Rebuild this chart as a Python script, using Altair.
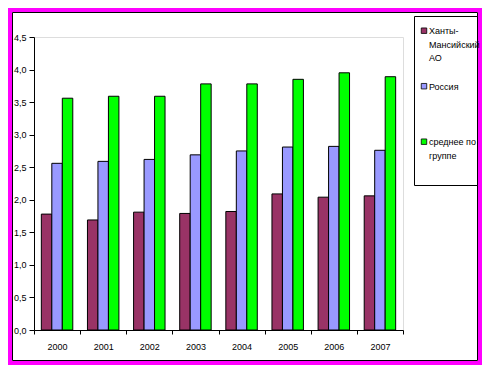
import altair as alt
import pandas as pd

# ---- data ----
years = ["2000", "2001", "2002", "2003", "2004", "2005", "2006", "2007"]
series = ["Ханты-Мансийский АО", "Россия", "среднее по группе"]
legend_labels = ["Ханты-\nМансийский\nАО", "Россия", "среднее по\nгруппе"]
khmao = [1.78, 1.69, 1.81, 1.79, 1.82, 2.09, 2.04, 2.06]
russia = [2.56, 2.59, 2.62, 2.69, 2.75, 2.81, 2.82, 2.76]
group_avg = [3.56, 3.59, 3.59, 3.78, 3.78, 3.85, 3.95, 3.89]
y_ticks = [0, 0.5, 1.0, 1.5, 2.0, 2.5, 3.0, 3.5, 4.0, 4.5]
colors = ["#993366", "#9999FF", "#00FF00"]

FONT = "Liberation Sans"

rows = []
for name, vals in zip(series, [khmao, russia, group_avg]):
    for yr, v in zip(years, vals):
        rows.append({"year": yr, "series": name, "value": v})
df = pd.DataFrame(rows)

legend_df = pd.DataFrame({
    "series": series,
    "label": legend_labels,
    "idx": list(range(len(series))),
})

color_scale = alt.Scale(domain=series, range=colors)

bars = alt.Chart(df).mark_bar(stroke="black", strokeWidth=1).encode(
    x=alt.X(
        "year:N",
        sort=years,
        scale=alt.Scale(paddingInner=0, paddingOuter=0),
        axis=alt.Axis(
            title=None, labelAngle=0, tickBand="extent", tickSize=4,
            labelPadding=8, labelFontSize=9, labelFont=FONT,
            labelColor="black", domainColor="black", tickColor="black",
        ),
    ),
    xOffset=alt.XOffset(
        "series:N", sort=series,
        scale=alt.Scale(domain=series, paddingInner=0, paddingOuter=0.7),
    ),
    y=alt.Y(
        "value:Q",
        scale=alt.Scale(domain=[0, 4.5], nice=False, zero=True),
        axis=alt.Axis(
            title=None, values=y_ticks, grid=False, tickSize=5,
            labelPadding=3, labelFontSize=9, labelFont=FONT,
            labelColor="black", domainColor="black", tickColor="black",
            labelExpr="replace(format(datum.value, '.1f'), '.', ',')",
        ),
    ),
    color=alt.Color("series:N", scale=color_scale, legend=None),
)

one = pd.DataFrame({"k": [0]})

# outer magenta border (svg spans 474 x 357; plot origin at svg (26, 29))
frame_magenta = alt.Chart(one).mark_rect(
    fill="white", fillOpacity=0, stroke="#FF00FF", strokeWidth=4
).encode(
    x=alt.value(-24), x2=alt.value(446),
    y=alt.value(-27), y2=alt.value(326),
)

frame_black = alt.Chart(one).mark_rect(
    fill="white", fillOpacity=0, stroke="black", strokeWidth=1
).encode(
    x=alt.value(-21.5), x2=alt.value(443.5),
    y=alt.value(-24.5), y2=alt.value(323.5),
)

legend_box = alt.Chart(one).mark_rect(
    fill="white", stroke="black", strokeWidth=1
).encode(
    x=alt.value(380.5), x2=alt.value(443.5),
    y=alt.value(-20.5), y2=alt.value(148.5),
)

leg_y = alt.Y("idx:Q", scale=alt.Scale(domain=[0, 2], range=[-6.3, 104.7], nice=False, zero=False), axis=None)

leg_squares = alt.Chart(legend_df).mark_square(
    size=30, stroke="black", strokeWidth=0.8, opacity=1
).encode(
    x=alt.value(390),
    y=leg_y,
    color=alt.Color("series:N", scale=color_scale, legend=None),
)

leg_text = alt.Chart(legend_df).mark_text(
    align="left", baseline="alphabetic", dy=3.3, font=FONT, fontSize=9,
    color="black", lineBreak="\n", lineHeight=13.7,
).encode(
    x=alt.value(395),
    y=leg_y,
    text="label:N",
)

chart = alt.layer(
    bars, frame_magenta, frame_black, legend_box, leg_squares, leg_text
).resolve_scale(
    y="independent"
).properties(
    width=369,
    height=293,
    padding={"left": 26, "top": 29, "right": 79, "bottom": 35},
    autosize=alt.AutoSizeParams(type="none"),
).configure_view(
    stroke="#808080", strokeWidth=1, fill="white"
).configure(
    background="white"
)

chart.save("out.html", embed_options={"renderer": "svg", "actions": False})
